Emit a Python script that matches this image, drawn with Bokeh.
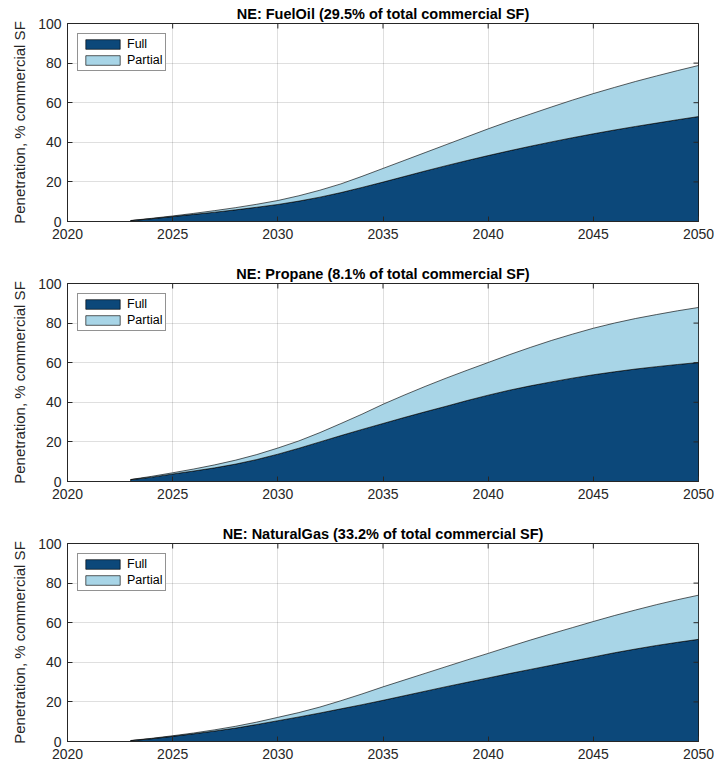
import math
from bokeh.plotting import figure
from bokeh.models import Range1d, FixedTicker, Legend, LegendItem
from bokeh.layouts import column
from bokeh.embed import file_html
from bokeh.resources import INLINE

years = list(range(2023, 2051))

fueloil_total = [0.5, 1.6, 2.8, 4.1, 5.5, 7.0, 8.7, 10.6, 13.0, 15.8, 19.0, 22.8, 26.8, 30.8,
                 34.8, 38.8, 42.8, 46.8, 50.6, 54.2, 57.8, 61.3, 64.6, 67.7, 70.7, 73.5, 76.2, 78.8]
fueloil_full = [0.4, 1.4, 2.5, 3.6, 4.7, 5.9, 7.2, 8.6, 10.3, 12.3, 14.6, 17.2, 19.9, 22.7,
                25.5, 28.2, 30.8, 33.3, 35.7, 38.0, 40.2, 42.3, 44.3, 46.2, 48.0, 49.7, 51.4, 53.0]

propane_total = [1.0, 2.6, 4.4, 6.3, 8.4, 10.8, 13.6, 16.9, 20.5, 24.7, 29.3, 34.0, 39.0, 43.6,
                 48.0, 52.2, 56.2, 60.1, 64.0, 67.7, 71.2, 74.4, 77.4, 80.0, 82.3, 84.3, 86.2, 87.9]
propane_full = [0.9, 2.2, 3.8, 5.3, 6.9, 8.8, 11.1, 13.8, 16.8, 20.0, 23.2, 26.3, 29.3, 32.3,
                35.2, 38.0, 40.9, 43.6, 46.1, 48.3, 50.3, 52.2, 53.9, 55.4, 56.8, 58.0, 59.1, 60.1]

natgas_total = [0.5, 1.6, 2.9, 4.3, 5.9, 7.7, 9.8, 12.2, 14.6, 17.4, 20.6, 24.0, 27.6, 31.0,
                34.4, 37.8, 41.2, 44.5, 47.9, 51.2, 54.4, 57.5, 60.6, 63.6, 66.4, 69.1, 71.6, 73.9]
natgas_full = [0.4, 1.4, 2.6, 3.9, 5.3, 6.8, 8.6, 10.5, 12.4, 14.4, 16.5, 18.6, 20.8, 23.1,
               25.4, 27.7, 29.9, 32.1, 34.3, 36.4, 38.5, 40.6, 42.7, 44.8, 46.7, 48.5, 50.1, 51.6]

titles = ["NE: FuelOil (29.5% of total commercial SF)",
          "NE: Propane (8.1% of total commercial SF)",
          "NE: NaturalGas (33.2% of total commercial SF)"]
x_ticks = [2020, 2025, 2030, 2035, 2040, 2045, 2050]
y_ticks = [0, 20, 40, 60, 80, 100]
series_labels = ["Full", "Partial"]

FONT = "Liberation Sans"
DARK = "#262626"
FULL_COLOR = "#0C487A"
PARTIAL_COLOR = "#A8D5E7"


def make_panel(title, full, total, height, top_border, bottom_border):
    p = figure(width=714, height=height, output_backend="svg", toolbar_location=None,
               x_range=Range1d(2020, 2050), y_range=Range1d(0, 100),
               min_border_left=67, min_border_right=16, min_border_top=top_border,
               min_border_bottom=bottom_border)
    p.title.text = title
    p.title.align = "center"
    p.title.text_font = FONT
    p.title.text_font_size = "14.5px"
    p.title.text_font_style = "bold"
    p.title.text_color = "black"
    p.title.standoff = 3

    # stacked areas as patches (Full from 0, Partial on top of Full)
    px = years + years[::-1]
    r_full = p.patch(px, full + [0] * len(years), fill_color=FULL_COLOR, line_color="black",
                     line_width=0.7, line_alpha=0.9)
    r_part = p.patch(px, total + full[::-1], fill_color=PARTIAL_COLOR, line_color="black",
                     line_width=0.7, line_alpha=0.9)

    for ax in (p.xaxis[0], p.yaxis[0]):
        ax.major_tick_in = 5
        ax.major_tick_out = 0
        ax.minor_tick_line_color = None
        ax.axis_line_color = DARK
        ax.major_tick_line_color = DARK
        ax.major_label_text_font = FONT
        ax.major_label_text_font_size = "14px"
        ax.major_label_text_color = DARK
    p.xaxis[0].ticker = FixedTicker(ticks=x_ticks)
    p.yaxis[0].ticker = FixedTicker(ticks=y_ticks)
    p.xaxis[0].major_label_standoff = 7
    p.yaxis[0].major_label_standoff = 6
    p.yaxis[0].axis_label = "Penetration, % commercial SF"
    p.yaxis[0].axis_label_text_font = FONT
    p.yaxis[0].axis_label_text_font_size = "15px"
    p.yaxis[0].axis_label_text_font_style = "normal"
    p.yaxis[0].axis_label_text_color = DARK
    p.yaxis[0].axis_label_standoff = 7

    # tick marks on the top and right edges of the box (clipped to the frame)
    p.scatter(x=x_ticks, y=[y_ticks[-1]] * len(x_ticks), marker="dash", size=10,
              angle=math.pi / 2, line_color=DARK, line_width=1)
    p.scatter(x=[x_ticks[-1]] * len(y_ticks), y=y_ticks, marker="dash", size=10,
              line_color=DARK, line_width=1)

    p.grid.grid_line_color = DARK
    p.grid.grid_line_alpha = 0.15
    p.xgrid.ticker = FixedTicker(ticks=x_ticks)
    p.ygrid.ticker = FixedTicker(ticks=y_ticks)
    p.outline_line_color = DARK
    p.outline_line_width = 1
    p.background_fill_color = "white"
    p.border_fill_color = "white"

    legend = Legend(items=[LegendItem(label=series_labels[0], renderers=[r_full]),
                           LegendItem(label=series_labels[1], renderers=[r_part])],
                    location="top_left")
    legend.label_text_font = FONT
    legend.label_text_font_size = "12.5px"
    legend.label_text_color = "black"
    legend.glyph_width = 43
    legend.glyph_height = 12
    legend.label_height = 14
    legend.label_standoff = 3
    legend.padding = 3
    legend.spacing = 2
    legend.margin = 10
    legend.border_line_color = DARK
    legend.border_line_width = 1
    legend.background_fill_alpha = 1
    p.add_layout(legend)
    return p


p1 = make_panel(titles[0], fueloil_full, fueloil_total, 261, 23, 40)
p2 = make_panel(titles[1], propane_full, propane_total, 260, 22, 40)
p3 = make_panel(titles[2], natgas_full, natgas_total, 243, 22, 23)

layout = column(p1, p2, p3, spacing=0)
open("out.html", "w").write(file_html(layout, INLINE))
